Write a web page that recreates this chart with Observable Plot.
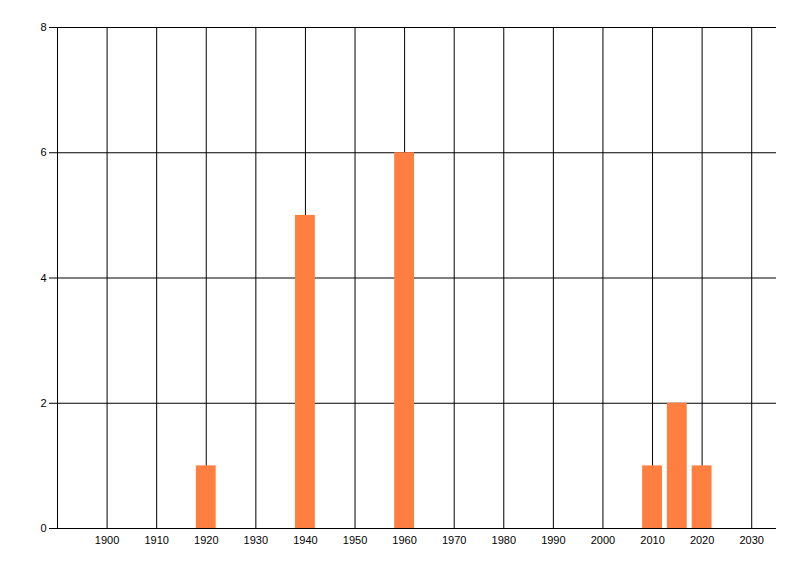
<!DOCTYPE html>
<html>
<head>
<meta charset="utf-8">
<script src="https://cdn.jsdelivr.net/npm/d3@7"></script>
<script src="https://cdn.jsdelivr.net/npm/@observablehq/plot@0.6"></script>
<style>
  html, body { margin: 0; padding: 0; background: #fff; }
  #chart { width: 800px; height: 576px; }
</style>
</head>
<body>
<div id="chart"></div>
<script>
// Data
const years  = [1920, 1940, 1960, 2010, 2015, 2020];
const counts = [1, 5, 6, 1, 2, 1];
const xTicks = [1900, 1910, 1920, 1930, 1940, 1950, 1960, 1970, 1980, 1990, 2000, 2010, 2020, 2030];
const yTicks = [0, 2, 4, 6, 8];
const xDomain = [1890, 2035];
const yDomain = [0, 8];
const barHalfWidth = 2; // years

const data = years.map((y, i) => ({year: y, count: counts[i]}));

const chart = Plot.plot({
  width: 800,
  height: 576,
  marginLeft: 57,
  marginRight: 24,
  marginTop: 27,
  marginBottom: 48,
  style: {fontFamily: "'Liberation Sans', Arial, sans-serif", fontSize: "11px", color: "#000", background: "#fff"},
  x: {domain: xDomain},
  y: {domain: yDomain},
  marks: [
    Plot.ruleX(xTicks, {x: d => d, stroke: "#000", strokeWidth: 1}),
    Plot.ruleY(yTicks, {y: d => d, stroke: "#000", strokeWidth: 1}),
    Plot.ruleX([xDomain[0]], {stroke: "#000", strokeWidth: 1}),
    Plot.rectY(data, {x1: d => d.year - barHalfWidth, x2: d => d.year + barHalfWidth, y: "count", fill: "#ff7f40"}),
    Plot.axisY({ticks: yTicks, tickSize: 8, tickPadding: 3, tickFormat: d => String(d), label: null, stroke: "#000", fill: "#000"}),
    Plot.axisX({ticks: xTicks, tickSize: 0, tickPadding: 8, tickFormat: d => String(d), label: null, fill: "#000"})
  ]
});
document.getElementById("chart").appendChild(chart);
</script>
</body>
</html>
